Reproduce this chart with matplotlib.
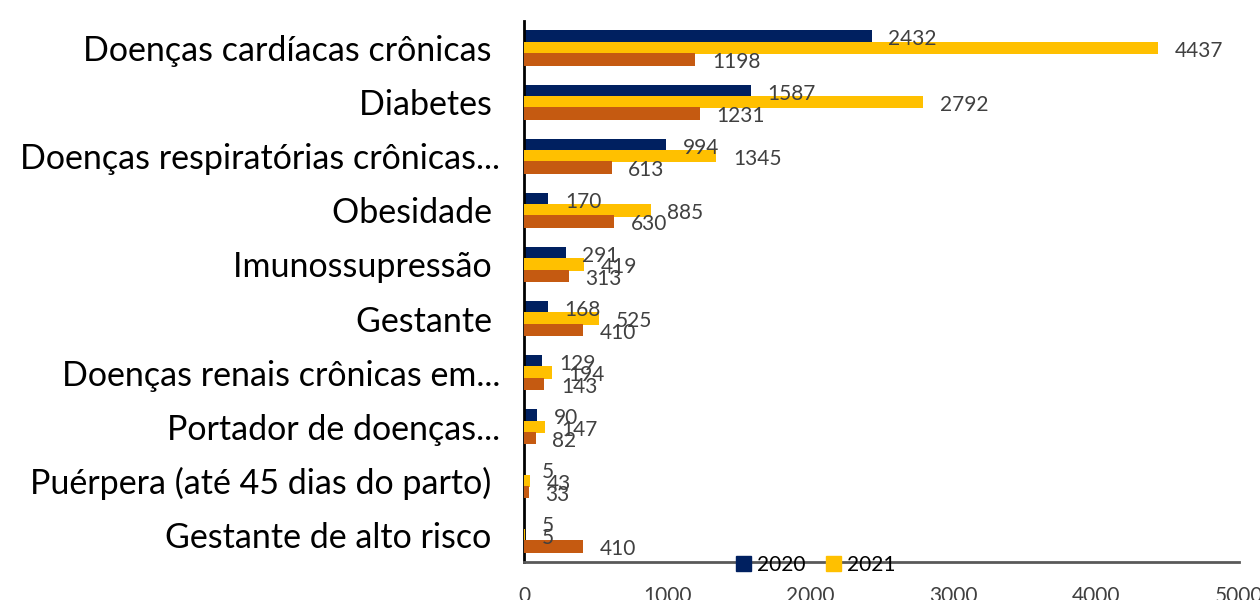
import matplotlib as mpl
mpl.use('Agg')
import matplotlib.pyplot as plt
from matplotlib.patches import Patch
import numpy as np

categories = ['Doenças cardíacas crônicas ', 'Diabetes ', 'Doenças respiratórias crônicas...',
              'Obesidade ', 'Imunossupressão ', 'Gestante ', 'Doenças renais crônicas em...',
              'Portador de doenças...', 'Puérpera (até 45 dias do parto) ', 'Gestante de alto risco ']
v2020 = [2432, 1587, 994, 170, 291, 168, 129, 90, 5, 5]
v2021 = [4437, 2792, 1345, 885, 419, 525, 194, 147, 43, 5]
v2022 = [1198, 1231, 613, 630, 313, 410, 143, 82, 33, 410]
series = [('2020', v2020, '#002060'), ('2021', v2021, '#FFC000'), ('2022', v2022, '#C55A11')]

plt.rcParams['font.family'] = ['Lato', 'DejaVu Sans']

fig = plt.figure(figsize=(12.6, 6), dpi=100)
ax = fig.add_axes([0.4159, 0.0633, 0.5674, 0.9017])

y = np.arange(len(categories))
step = 0.21
for k, (name, vals, col) in enumerate(series):
    yy = y + (k - 1) * step
    ax.barh(yy, vals, height=0.23, color=col, zorder=2 + k)
    for yi, v in zip(yy, vals):
        ax.annotate(str(v), (v, yi), xytext=(12, -2), textcoords='offset points',
                    ha='left', va='center', fontsize=15, color='#404040', zorder=10)

ax.set_ylim(len(categories) - 0.5, -0.5)
ax.set_xlim(0, 5000)
ax.set_yticks(y)
ax.set_yticklabels(categories, fontsize=24.5, color='black')
ax.set_xticks(np.arange(0, 5001, 1000))
ax.tick_params(axis='y', length=0, pad=17)
ax.tick_params(axis='x', length=0, pad=17, labelsize=15, labelcolor='#404040')

for s in ['top', 'right']:
    ax.spines[s].set_visible(False)
ax.spines['left'].set_color('black')
ax.spines['left'].set_linewidth(2)
ax.spines['bottom'].set_color('#595959')
ax.spines['bottom'].set_linewidth(2)

handles = [Patch(color='#002060', label='2020'), Patch(color='#FFC000', label='2021')]
ax.legend(handles=handles, loc='center', bbox_to_anchor=(0.408, -0.005), ncol=2,
          frameon=False, fontsize=15, handlelength=0.7, handleheight=0.7,
          handletextpad=0.3, columnspacing=1.0, borderpad=0)

fig.savefig('out.png', dpi=100)
